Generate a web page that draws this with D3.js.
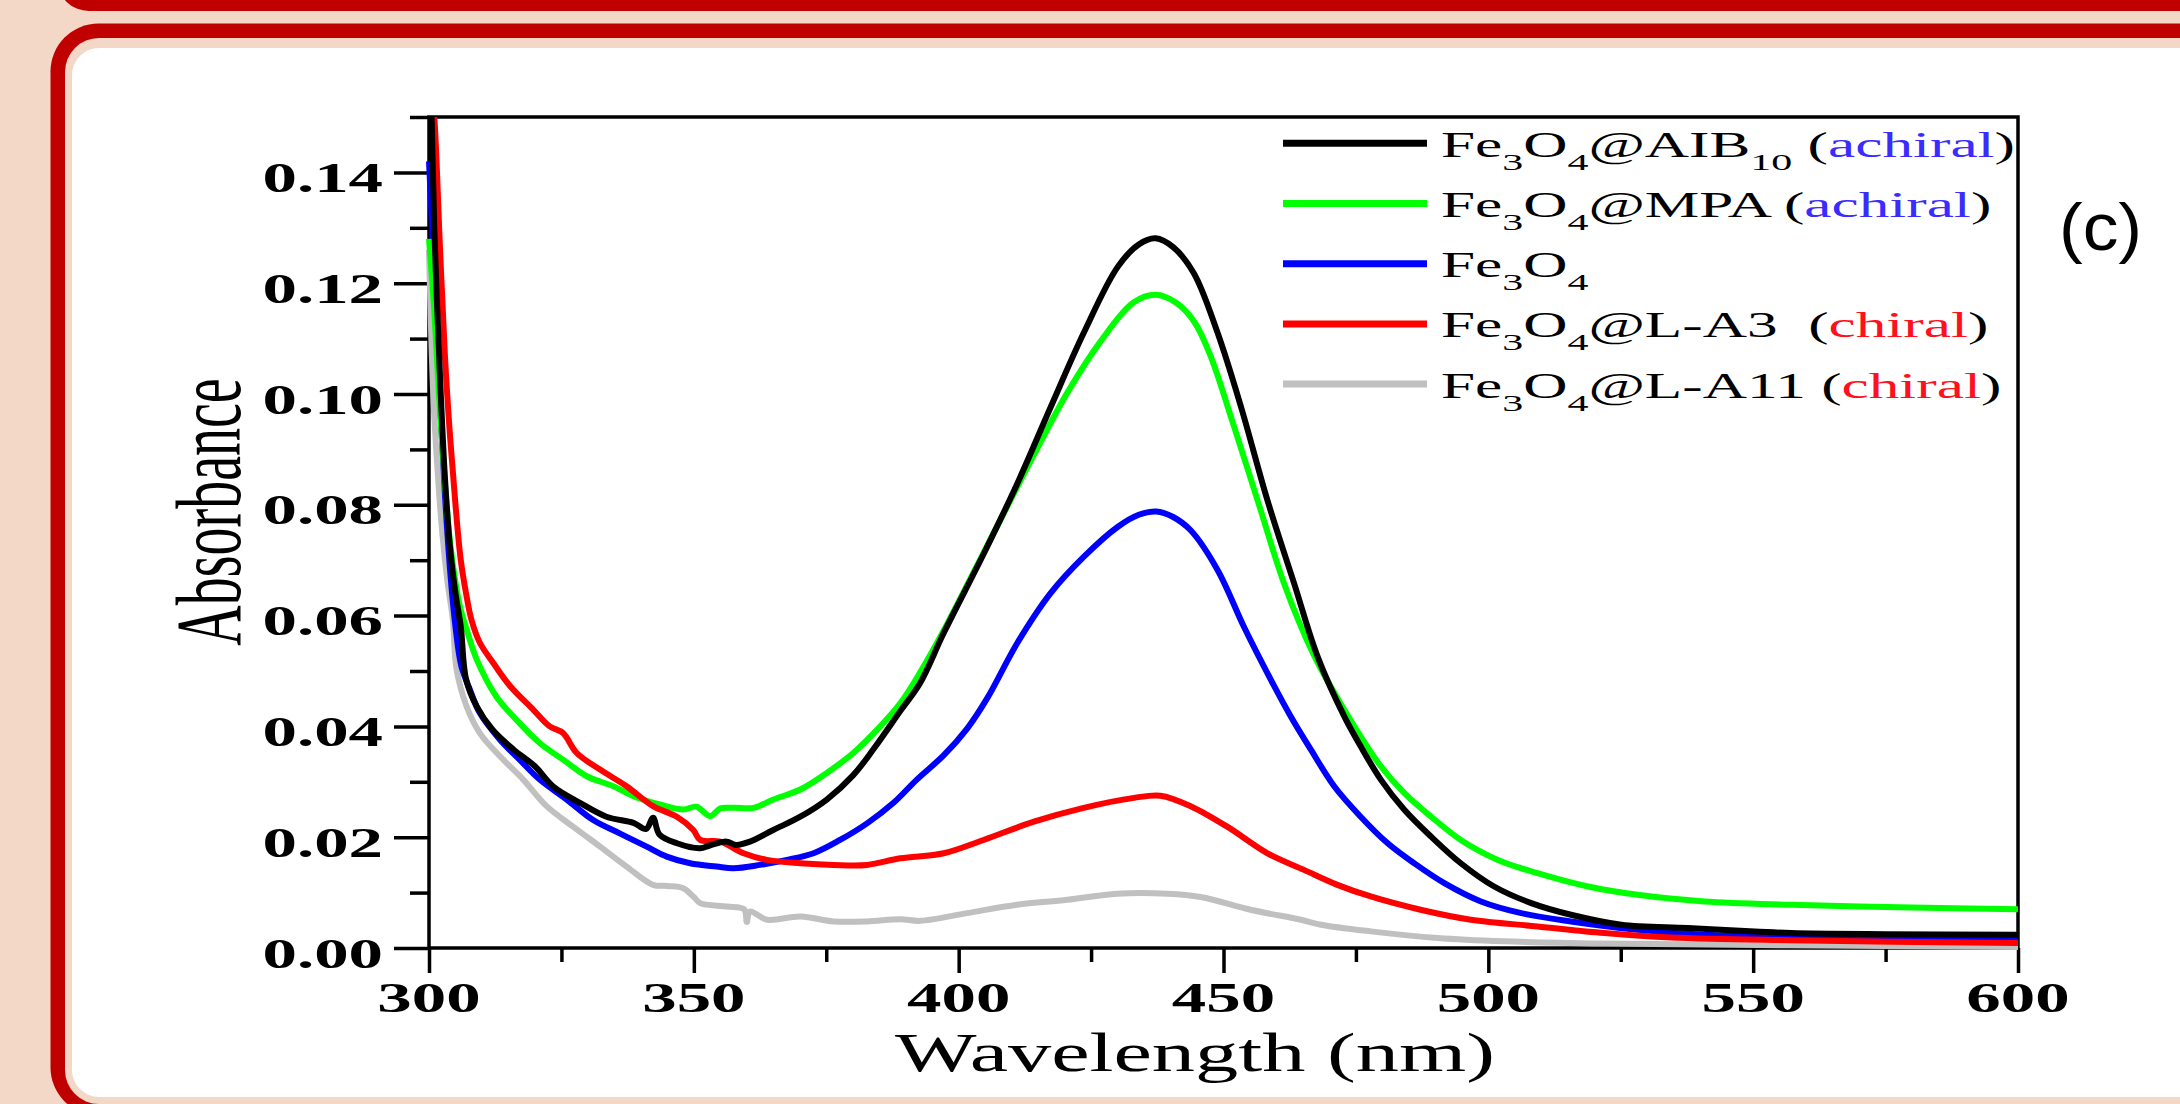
<!DOCTYPE html>
<html>
<head>
<meta charset="utf-8">
<script src="https://cdn.jsdelivr.net/npm/d3@7"></script>
<style>
  html, body { margin: 0; padding: 0; background: #f3d8c8; }
  svg { display: block; }
  text { white-space: pre; }
</style>
</head>
<body>
<svg id="chart" width="2180" height="1104"></svg>
<script>
// UV-vis absorbance spectra, [wavelength (nm), absorbance]
const seriesAIB10 = [
  [300, 0.170], [300.5, 0.150], [301, 0.130], [302, 0.105], [303, 0.085], [304, 0.072],
  [305, 0.064], [306, 0.058], [307, 0.0485], [309, 0.0436], [312, 0.0394], [316, 0.0358],
  [320, 0.0328], [323.4, 0.0292], [328.5, 0.0262], [333.5, 0.0237], [338.6, 0.0226],
  [341, 0.0215], [342.3, 0.0235], [343.5, 0.0205], [346.8, 0.0189], [351.2, 0.0180],
  [353, 0.0185], [356.2, 0.0192], [358, 0.0186], [360.6, 0.0192], [365, 0.0213],
  [370.1, 0.0237], [375.1, 0.0268], [380.1, 0.0312], [384, 0.0360], [389, 0.0428],
  [392.7, 0.0478], [397.2, 0.0569], [404.8, 0.0713], [411.1, 0.0839], [417.4, 0.0977],
  [423.6, 0.1110], [430, 0.1229], [434, 0.1270], [437.2, 0.1281], [440.5, 0.1265],
  [444.4, 0.1218], [448.9, 0.1110], [453.3, 0.0977], [458.3, 0.0808], [463.3, 0.0659],
  [467.8, 0.0525], [472.8, 0.0418], [475.9, 0.0364], [479.7, 0.0304],
  [484.1, 0.0250], [489.2, 0.0201], [494.8, 0.0153], [501.1, 0.0111], [508.1, 0.0081],
  [515.6, 0.0060], [525.1, 0.0042], [537.7, 0.0036], [550.3, 0.0030], [557.2, 0.0027],
  [575, 0.0025], [600, 0.0024]
];
const seriesMPA = [
  [300, 0.128], [301, 0.115], [302, 0.098], [303, 0.084], [304, 0.073], [305, 0.066],
  [306, 0.061], [307.1, 0.0575], [309, 0.0521], [312.7, 0.0454], [316.5, 0.0412],
  [320.9, 0.0370], [325.3, 0.0340], [329.8, 0.0310], [334.8, 0.0292], [338.6, 0.0274],
  [343.6, 0.0259], [348, 0.0250], [350.5, 0.0255], [353.1, 0.0238], [355, 0.0252],
  [357.5, 0.0253], [361.3, 0.0253], [365, 0.0268], [370.1, 0.0286], [375.1, 0.0316],
  [380.1, 0.0352], [385.2, 0.0400], [389, 0.0442], [392.7, 0.0497], [397, 0.0570],
  [404, 0.0700], [408, 0.0775], [414.2, 0.0890], [420.5, 0.1002], [426.8, 0.1095],
  [433, 0.1165], [437.2, 0.1179], [441, 0.1165], [444.5, 0.1130], [447.5, 0.1070],
  [452, 0.0941], [457, 0.0791], [461.4, 0.0659], [467, 0.0530], [474.7, 0.0400],
  [479.7, 0.0328], [484.1, 0.0280], [489.2, 0.0237], [494.8, 0.0195], [501.8, 0.0159],
  [509.3, 0.0135], [518.8, 0.0111], [528.2, 0.0096], [540.8, 0.0084], [557.2, 0.0078],
  [580, 0.0073], [600, 0.0070]
];
const seriesBare = [
  [300, 0.142], [301, 0.122], [302, 0.100], [303, 0.082], [304, 0.068], [305, 0.058],
  [306.1, 0.0509], [307.7, 0.0467], [309.6, 0.0424], [313.4, 0.0376], [317.1, 0.0340],
  [320.9, 0.0304], [326, 0.0268], [331, 0.0231], [336, 0.0207], [341.1, 0.0183],
  [344.9, 0.0165], [349.3, 0.0153], [354.3, 0.0147], [357.5, 0.0144], [362.5, 0.0150],
  [367.6, 0.0159], [372.6, 0.0171], [377.6, 0.0195], [382.7, 0.0225], [387.7, 0.0262],
  [392.1, 0.0304], [397.2, 0.0348], [401.6, 0.0396], [405.4, 0.0451], [411.1, 0.0551],
  [417.4, 0.0641], [423.6, 0.0706], [430, 0.0760], [434, 0.0782], [437.3, 0.0788],
  [440.5, 0.0778], [443.8, 0.0754], [448.9, 0.0682], [453.9, 0.0579], [458.9, 0.0485],
  [462.7, 0.0418], [466.5, 0.0358], [470.9, 0.0292], [475.9, 0.0237], [481, 0.0189],
  [486, 0.0153], [491.7, 0.0117], [498.6, 0.0084], [506.2, 0.0063], [515.6, 0.0048],
  [528.2, 0.0033], [540.8, 0.0024], [557.2, 0.0020], [600, 0.0016]
];
const seriesLA3 = [
  [300, 0.160], [301, 0.150], [302, 0.128], [303, 0.107], [304, 0.092], [305, 0.080],
  [306, 0.070], [307, 0.064], [308, 0.0593], [309.6, 0.0551], [312.1, 0.0515],
  [315.3, 0.0473], [319.7, 0.0430], [322.8, 0.0400], [325.3, 0.0388], [327.9, 0.0352],
  [332.3, 0.0322], [337.3, 0.0292], [342.3, 0.0256], [346.8, 0.0237], [349.9, 0.0213],
  [351.2, 0.0195], [355, 0.0192], [359.4, 0.0171], [363.8, 0.0159], [370.1, 0.0153],
  [376.4, 0.0150], [382.7, 0.0150], [389, 0.0162], [397.2, 0.0171], [404.7, 0.0195],
  [414.2, 0.0228], [423.6, 0.0253], [433.1, 0.0271], [438.1, 0.0275], [443.8, 0.0256],
  [450.7, 0.0219], [458.3, 0.0171], [465.2, 0.0141], [471.5, 0.0114], [477.8, 0.0093],
  [487.2, 0.0069], [496.7, 0.0051], [509.3, 0.0039], [521.9, 0.0027], [534.5, 0.0019],
  [557.2, 0.0014], [600, 0.0009]
];
const seriesLA11 = [
  [300, 0.126], [300.8, 0.100], [301.5, 0.088], [302.5, 0.075], [303.5, 0.066],
  [304.5, 0.0593], [305.2, 0.0503], [307.1, 0.0436], [309.6, 0.0388], [313.4, 0.0346],
  [317.8, 0.0304], [322.2, 0.0256], [327.2, 0.0219], [332.3, 0.0183], [337.3, 0.0147],
  [342.3, 0.0114], [345, 0.0112], [348, 0.0108], [350, 0.0092], [351.2, 0.0081],
  [356.2, 0.0075], [359.5, 0.0070], [360, 0.0047], [360.6, 0.0066], [363.8, 0.0051],
  [370.1, 0.0057], [376.4, 0.0048], [382.7, 0.0048], [389, 0.0052], [392.7, 0.0049],
  [401.6, 0.0063], [411, 0.0078], [420.5, 0.0087], [429.9, 0.0098], [439.4, 0.0098],
  [445.7, 0.0092], [455.1, 0.0069], [464.6, 0.0051], [468.4, 0.0042], [477.8, 0.0030],
  [490.4, 0.0018], [503, 0.0012], [521.9, 0.0008], [557, 0.0005], [600, 0.0002]
];

const yMajorTicks = [0, 0.02, 0.04, 0.06, 0.08, 0.10, 0.12, 0.14];
const yMinorTicks = [0.01, 0.03, 0.05, 0.07, 0.09, 0.11, 0.13, 0.15];
const yTickLabels = ["0.00", "0.02", "0.04", "0.06", "0.08", "0.10", "0.12", "0.14"];
const xMajorTicks = [300, 350, 400, 450, 500, 550, 600];
const xMinorTicks = [325, 375, 425, 475, 525, 575];
const xTickLabels = ["300", "350", "400", "450", "500", "550", "600"];

// legend labels: [text, role] where role is "sub" (subscript), "tag" (coloured tag) or ""
const legendLabels = [
  [["Fe", ""], ["3", "sub"], ["O", ""], ["4", "sub"], ["@AIB", ""], ["10", "sub"], [" (", ""], ["achiral", "tag"], [")", ""]],
  [["Fe", ""], ["3", "sub"], ["O", ""], ["4", "sub"], ["@MPA (", ""], ["achiral", "tag"], [")", ""]],
  [["Fe", ""], ["3", "sub"], ["O", ""], ["4", "sub"]],
  [["Fe", ""], ["3", "sub"], ["O", ""], ["4", "sub"], ["@L-A3  (", ""], ["chiral", "tag"], [")", ""]],
  [["Fe", ""], ["3", "sub"], ["O", ""], ["4", "sub"], ["@L-A11 (", ""], ["chiral", "tag"], [")", ""]]
];

const series = [
  { data: seriesAIB10, color: "#000000", tag: "#3a2cff" },
  { data: seriesMPA,   color: "#00ff00", tag: "#3a2cff" },
  { data: seriesBare,  color: "#0000ff", tag: "#3a2cff" },
  { data: seriesLA3,   color: "#ff0000", tag: "#ff1020" },
  { data: seriesLA11,  color: "#c0c0c0", tag: "#ff1020" }
];
const drawOrder = [4, 2, 1, 3, 0];

const svg = d3.select("#chart");
const serif = "'Liberation Serif', 'Times New Roman', serif";
const stretch = 1.64;   // horizontal glyph stretch of the figure text

// ---- page decoration: rounded red frames on beige ----
svg.append("rect").attr("width", 2180).attr("height", 1104).attr("fill", "#f3d8c8");
svg.append("rect").attr("x", 57).attr("y", -80).attr("width", 2300).attr("height", 91)
  .attr("rx", 32).attr("fill", "#c00000");
svg.append("rect").attr("x", 50.5).attr("y", 23.5).attr("width", 2300).attr("height", 1092)
  .attr("rx", 48).attr("fill", "#c00000");
svg.append("rect").attr("x", 65).attr("y", 38).attr("width", 2300).attr("height", 1066)
  .attr("rx", 34).attr("fill", "#f3d8c8");
svg.append("rect").attr("x", 72).attr("y", 48).attr("width", 2300).attr("height", 1049)
  .attr("rx", 27).attr("fill", "#ffffff");

// ---- scales ----
const plot = { left: 429, right: 2018, top: 117, bottom: 948 };
const x = d3.scaleLinear().domain([300, 600]).range([plot.left, plot.right]);
const y = d3.scaleLinear().domain([0, 0.15]).range([plot.bottom, plot.top]);

// ---- axes: ticks drawn with d3 axis generators ----
function tickAxis(gen, transform) {
  const g = svg.append("g").attr("transform", transform).call(gen);
  g.select(".domain").remove();
  g.selectAll(".tick line").attr("stroke", "#000").attr("stroke-width", 3.5);
  g.selectAll(".tick text").remove();
  return g;
}
tickAxis(d3.axisLeft(y).tickValues(yMajorTicks).tickSize(35).tickFormat(""), `translate(${plot.left},0)`);
tickAxis(d3.axisLeft(y).tickValues(yMinorTicks).tickSize(19).tickFormat(""), `translate(${plot.left},0)`);
tickAxis(d3.axisBottom(x).tickValues(xMajorTicks).tickSize(25).tickFormat(""), `translate(0,${plot.bottom})`);
tickAxis(d3.axisBottom(x).tickValues(xMinorTicks).tickSize(14).tickFormat(""), `translate(0,${plot.bottom})`);

// frame box
svg.append("rect")
  .attr("x", plot.left).attr("y", plot.top)
  .attr("width", plot.right - plot.left).attr("height", plot.bottom - plot.top)
  .attr("fill", "none").attr("stroke", "#000").attr("stroke-width", 3.5);

// tick labels
svg.append("g").selectAll("text").data(yMajorTicks).join("text")
  .attr("transform", (d) => `translate(383,${y(d) + 19.5}) scale(${stretch},1)`)
  .attr("text-anchor", "end")
  .attr("font-family", serif).attr("font-weight", "bold").attr("font-size", 42)
  .attr("fill", "#000")
  .text((d, i) => yTickLabels[i]);

svg.append("g").selectAll("text").data(xMajorTicks).join("text")
  .attr("transform", (d) => `translate(${x(d)},1012) scale(${stretch},1)`)
  .attr("text-anchor", "middle")
  .attr("font-family", serif).attr("font-weight", "bold").attr("font-size", 42)
  .attr("fill", "#000")
  .text((d, i) => xTickLabels[i]);

// axis titles
svg.append("text")
  .attr("transform", `translate(1195,1071) scale(1.6,1)`)
  .attr("text-anchor", "middle")
  .attr("font-family", serif).attr("font-size", 54).attr("fill", "#000")
  .text("Wavelength (nm)");

svg.append("text")
  .attr("transform", `translate(240,512) scale(1.68,1) rotate(-90)`)
  .attr("text-anchor", "middle")
  .attr("font-family", serif).attr("font-size", 56).attr("fill", "#000")
  .text("Absorbance");

// ---- spectra ----
svg.append("clipPath").attr("id", "plotClip")
  .append("rect").attr("x", plot.left - 4).attr("y", plot.top)
  .attr("width", plot.right - plot.left + 4).attr("height", plot.bottom - plot.top + 4);

const line = d3.line()
  .x((d) => x(d[0]))
  .y((d) => y(d[1]))
  .curve(d3.curveCatmullRom.alpha(0.5));

const lines = svg.append("g").attr("clip-path", "url(#plotClip)");
drawOrder.forEach((i) => {
  lines.append("path")
    .attr("d", line(series[i].data))
    .attr("fill", "none")
    .attr("stroke", series[i].color)
    .attr("stroke-width", 6)
    .attr("stroke-linejoin", "round")
    .attr("stroke-linecap", "butt");
});

// ---- legend ----
const legendTop = 143.3, legendStep = 60.2;
const legend = svg.append("g");
legendLabels.forEach((parts, i) => {
  const cy = legendTop + i * legendStep;
  legend.append("line")
    .attr("x1", 1283).attr("x2", 1427).attr("y1", cy).attr("y2", cy)
    .attr("stroke", series[i].color).attr("stroke-width", 7);
  const t = legend.append("text")
    .attr("transform", `translate(1441,${cy + 13.4}) scale(1.75,1)`)
    .attr("font-family", serif).attr("font-size", 35).attr("fill", "#000");
  let lowered = false;
  parts.forEach(([txt, role]) => {
    const span = t.append("tspan").text(txt);
    if (role === "sub") {
      span.attr("font-size", 24);
      if (!lowered) { span.attr("dy", 13); lowered = true; }
    } else {
      if (lowered) { span.attr("dy", -13); lowered = false; }
      if (role === "tag") span.attr("fill", series[i].tag);
    }
  });
});

// panel letter
svg.append("text")
  .attr("transform", "translate(2059,250) scale(1.08,1)")
  .attr("font-family", "'Liberation Sans', Arial, sans-serif")
  .attr("font-size", 66).attr("fill", "#000")
  .text("(c)");
</script>
</body>
</html>
